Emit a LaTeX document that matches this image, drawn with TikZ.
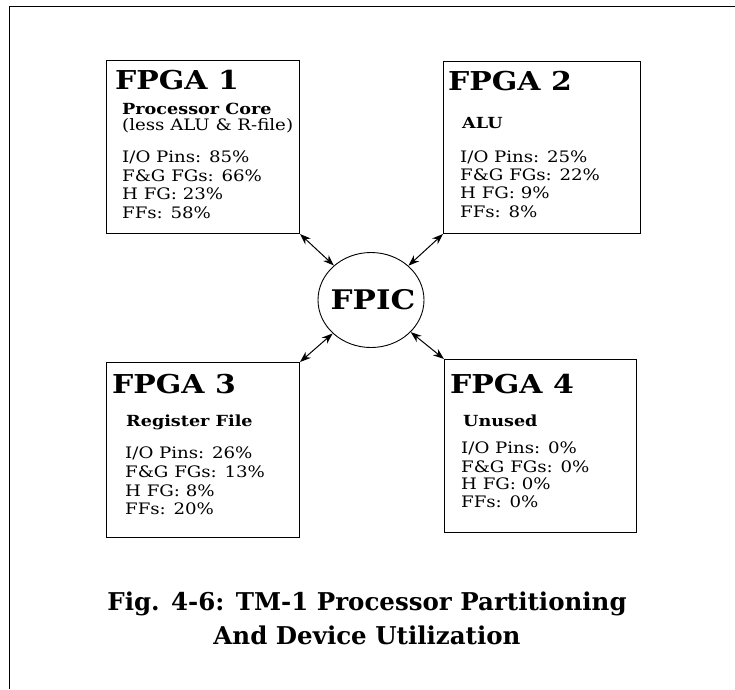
\documentclass[tikz,border=0pt]{standalone}
\usepackage{fontspec}
\setmainfont{DejaVu Serif}
\newfontfamily\widefont{DejaVu Serif}[FakeStretch=1.15]
\usetikzlibrary{shapes.geometric,arrows.meta}
\begin{document}
\begin{tikzpicture}[x=1pt,y=-1pt,
  fpgabox/.style={draw,line width=1pt,inner sep=0pt,anchor=north west},
  title/.style={anchor=base west,inner sep=0pt,font=\widefont\bfseries\fontsize{26}{26}\selectfont},
  sub/.style={anchor=base west,inner sep=0pt,font=\widefont\bfseries\fontsize{15.3}{15.3}\selectfont},
  body/.style={anchor=base west,inner sep=0pt,font=\widefont\fontsize{15.8}{15.8}\selectfont},
  link/.style={{Stealth[length=11pt,width=8pt]}-{Stealth[length=11pt,width=8pt]},line width=1pt}]
\useasboundingbox (0,0) rectangle (735,689);
% page frame (top and left edges)
\draw[line width=1pt] (9,689) -- (9,6) -- (735,6);

% FPGA boxes
\node[fpgabox,minimum width=193pt,minimum height=173pt] (f1) at (106,60) {};
\node[fpgabox,minimum width=197pt,minimum height=172pt] (f2) at (443,61) {};
\node[fpgabox,minimum width=193pt,minimum height=175pt] (f3) at (106,362) {};
\node[fpgabox,minimum width=192pt,minimum height=173pt] (f4) at (444,359) {};

% central interconnect chip
\node[draw,ellipse,line width=0.9pt,minimum width=106pt,minimum height=95pt,inner sep=0pt] (fpic) at (371,300) {};
\node[inner sep=0pt,font=\widefont\bfseries\fontsize{27}{27}\selectfont] (fpiclabel) at ([xshift=2pt]fpic.center) {FPIC};

% FPGA 1
\node[title] (t1) at (115,89) {FPGA 1};
\node[sub] (s1) at (122,114) {Processor Core};
\node[body] (s1b) at (122,130) {(less ALU \& R-file)};
\node[body] (a1) at (122,162) {I/O Pins: 85\%};
\node[body] (b1) at (122,181) {F\&G FGs: 66\%};
\node[body] (c1) at (122,199) {H FG: 23\%};
\node[body] (d1) at (122,218) {FFs: 58\%};

% FPGA 2
\node[title] (t2) at (448,90) {FPGA 2};
\node[sub] (s2) at (462,128) {ALU};
\node[body] (a2) at (460,162) {I/O Pins: 25\%};
\node[body] (b2) at (460,180) {F\&G FGs: 22\%};
\node[body] (c2) at (460,198) {H FG: 9\%};
\node[body] (d2) at (460,217) {FFs: 8\%};

% FPGA 3
\node[title] (t3) at (112,393) {FPGA 3};
\node[sub] (s3) at (126,426) {Register File};
\node[body] (a3) at (125,458) {I/O Pins: 26\%};
\node[body] (b3) at (125,477) {F\&G FGs: 13\%};
\node[body] (c3) at (125,496) {H FG: 8\%};
\node[body] (d3) at (125,514) {FFs: 20\%};

% FPGA 4
\node[title] (t4) at (450,393) {FPGA 4};
\node[sub] (s4) at (463,426) {Unused};
\node[body] (a4) at (461,453) {I/O Pins: 0\%};
\node[body] (b4) at (461,472) {F\&G FGs: 0\%};
\node[body] (c4) at (461,489) {H FG: 0\%};
\node[body] (d4) at (461,507) {FFs: 0\%};

% links between the FPGAs and the FPIC
\draw[link] (f1.south east) -- (fpic);
\draw[link] (f2.south west) -- (fpic);
\draw[link] (f3.north east) -- (fpic);
\draw[link] (f4.north west) -- (fpic);

% caption
\node[align=center,inner sep=0pt,font=\bfseries\fontsize{24.5}{34}\selectfont] (cap) at (367,618)
  {Fig. 4-6: TM-1 Processor Partitioning\\And Device Utilization};
\end{tikzpicture}
\end{document}
